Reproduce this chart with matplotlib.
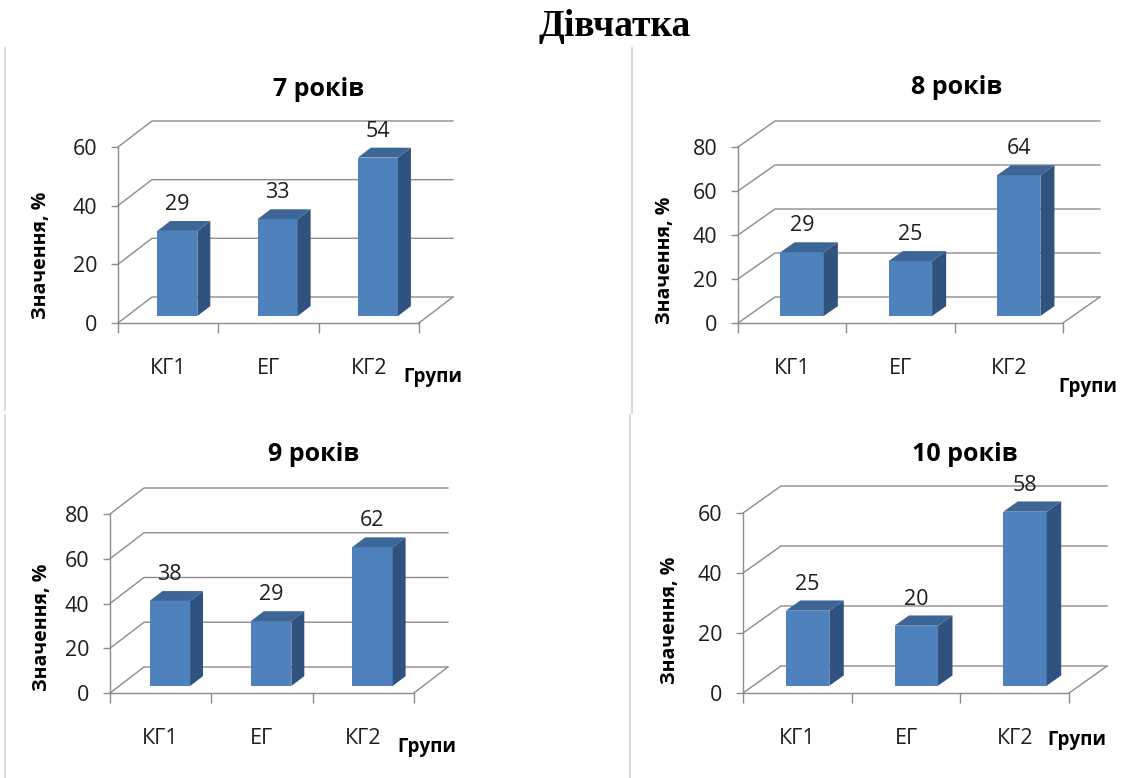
import matplotlib
matplotlib.use("Agg")
import matplotlib.pyplot as plt

plt.rcParams['font.family'] = ['Open Sans', 'DejaVu Sans']

W, H = 1123, 778

groups = ['КГ1', 'ЕГ', 'КГ2']
titles = ['7 років', '8 років', '9 років', '10 років']
vals_7 = [29, 33, 54]
vals_8 = [29, 25, 64]
vals_9 = [38, 29, 62]
vals_10 = [25, 20, 58]
ymax_list = [60, 80, 80, 60]
ystep = 20

# geometry of each panel in pixels: origin x, origin y, px per group, px per unit,
# depth shift x, depth shift y, title pos, y-label pos, "Групи" pos
panels = [
    dict(x0=118, y0=323, cx=100.3, cy=176 / 60, dx=34, dy=26,
         title=(319, 90), ylab=(41, 255), grp=(433, 377)),
    dict(x0=738, y0=323, cx=108.3, cy=176 / 80, dx=37, dy=26,
         title=(957, 88), ylab=(665, 260), grp=(1088, 387)),
    dict(x0=110, y0=693, cx=101.3, cy=179 / 80, dx=34, dy=26,
         title=(314, 455), ylab=(42, 627), grp=(427, 747)),
    dict(x0=743, y0=693, cx=108.7, cy=180 / 60, dx=38, dy=27,
         title=(965, 455), ylab=(670, 620), grp=(1077, 740)),
]
all_vals = [vals_7, vals_8, vals_9, vals_10]

front_c = '#4F81BD'
side_c = '#30527F'
top_c = '#3D6595'
grid_c = '#8C8C8C'

z0, z1 = 0.27, 0.65   # bar depth range (0 = front, 1 = back wall)
bw = 0.40             # bar width in group units


def fx(x):
    return x / W


def fy(y):
    return 1 - y / H


fig = plt.figure(figsize=(W / 100, H / 100), dpi=100)
fig.patch.set_facecolor('white')

fig.text(fx(615), fy(27), 'Дівчатка', family=['Liberation Serif', 'DejaVu Serif'],
         fontsize=27, fontweight='bold', ha='center', va='center')

# light borders of the chart areas
for x, ya, yb in [(5, 48, 410), (5, 415, 778), (632, 48, 413), (630, 415, 778)]:
    fig.add_artist(plt.Line2D([fx(x), fx(x)], [fy(ya), fy(yb)], color='#CFCFCF', lw=1.2))

for p, vals, ymax, title in zip(panels, all_vals, ymax_list, titles):
    n = len(vals)
    ddx = p['dx'] / p['cx']
    ddy = p['dy'] / p['cy']
    wpx = n * p['cx'] + p['dx']
    hpx = ymax * p['cy'] + p['dy']
    ax = fig.add_axes([fx(p['x0']), fy(p['y0']), wpx / W, hpx / H])
    ax.set_xlim(0, n + ddx)
    ax.set_ylim(0, ymax + ddy)
    ax.patch.set_alpha(0)

    # walls: side and back gridlines
    ticks = list(range(0, ymax + 1, ystep))
    for t in ticks:
        ax.plot([0, ddx, n + ddx], [t, t + ddy, t + ddy], color=grid_c, lw=1.0,
                clip_on=False, zorder=1)
    ax.plot([n, n + ddx], [0, ddy], color=grid_c, lw=1.0, clip_on=False, zorder=1)

    # bars
    for i, v in enumerate(vals):
        xl = i + 0.5 - bw / 2
        xr = i + 0.5 + bw / 2
        ax.fill([xl + z0 * ddx, xr + z0 * ddx, xr + z0 * ddx, xl + z0 * ddx],
                [z0 * ddy, z0 * ddy, v + z0 * ddy, v + z0 * ddy],
                color=front_c, lw=0, zorder=3)
        ax.fill([xr + z0 * ddx, xr + z1 * ddx, xr + z1 * ddx, xr + z0 * ddx],
                [z0 * ddy, z1 * ddy, v + z1 * ddy, v + z0 * ddy],
                color=side_c, lw=0, zorder=3)
        ax.fill([xl + z0 * ddx, xr + z0 * ddx, xr + z1 * ddx, xl + z1 * ddx],
                [v + z0 * ddy, v + z0 * ddy, v + z1 * ddy, v + z1 * ddy],
                color=top_c, lw=0, zorder=3)
        ax.annotate(str(v), (i + 0.5 + z0 * ddx, v + z0 * ddy), xytext=(0, 19),
                    textcoords='offset points', ha='center', va='center',
                    fontsize=15.5, color='#1E1E1E', zorder=4)
        ax.annotate(groups[i], (i + 0.5, 0), xytext=(0, -33),
                    textcoords='offset points', ha='center', va='center',
                    fontsize=15.5, color='#1E1E1E', annotation_clip=False)

    # axes lines
    for s in ['top', 'right']:
        ax.spines[s].set_visible(False)
    ax.spines['left'].set_bounds(0, ymax)
    ax.spines['bottom'].set_bounds(0, n)
    for s in ['left', 'bottom']:
        ax.spines[s].set_color(grid_c)
        ax.spines[s].set_linewidth(1.0)
    ax.set_yticks(ticks)
    ax.set_xticks(range(n + 1))
    ax.set_xticklabels([])
    ax.tick_params(axis='y', direction='out', length=5, width=1.0, color=grid_c,
                   pad=10, labelsize=15.5, labelcolor='#1E1E1E')
    ax.tick_params(axis='x', direction='out', length=7, width=1.0, color=grid_c)

    fig.text(fx(p['title'][0]), fy(p['title'][1]), title, fontsize=18,
             fontweight='bold', ha='center', va='center')
    fig.text(fx(p['ylab'][0]), fy(p['ylab'][1]), 'Значення, %', fontsize=14,
             fontweight='bold', rotation=90, ha='center', va='center')
    fig.text(fx(p['grp'][0]), fy(p['grp'][1]), 'Групи', fontsize=13.5,
             fontweight='bold', ha='center', va='center')

fig.savefig('out.png', dpi=100, facecolor='white')
